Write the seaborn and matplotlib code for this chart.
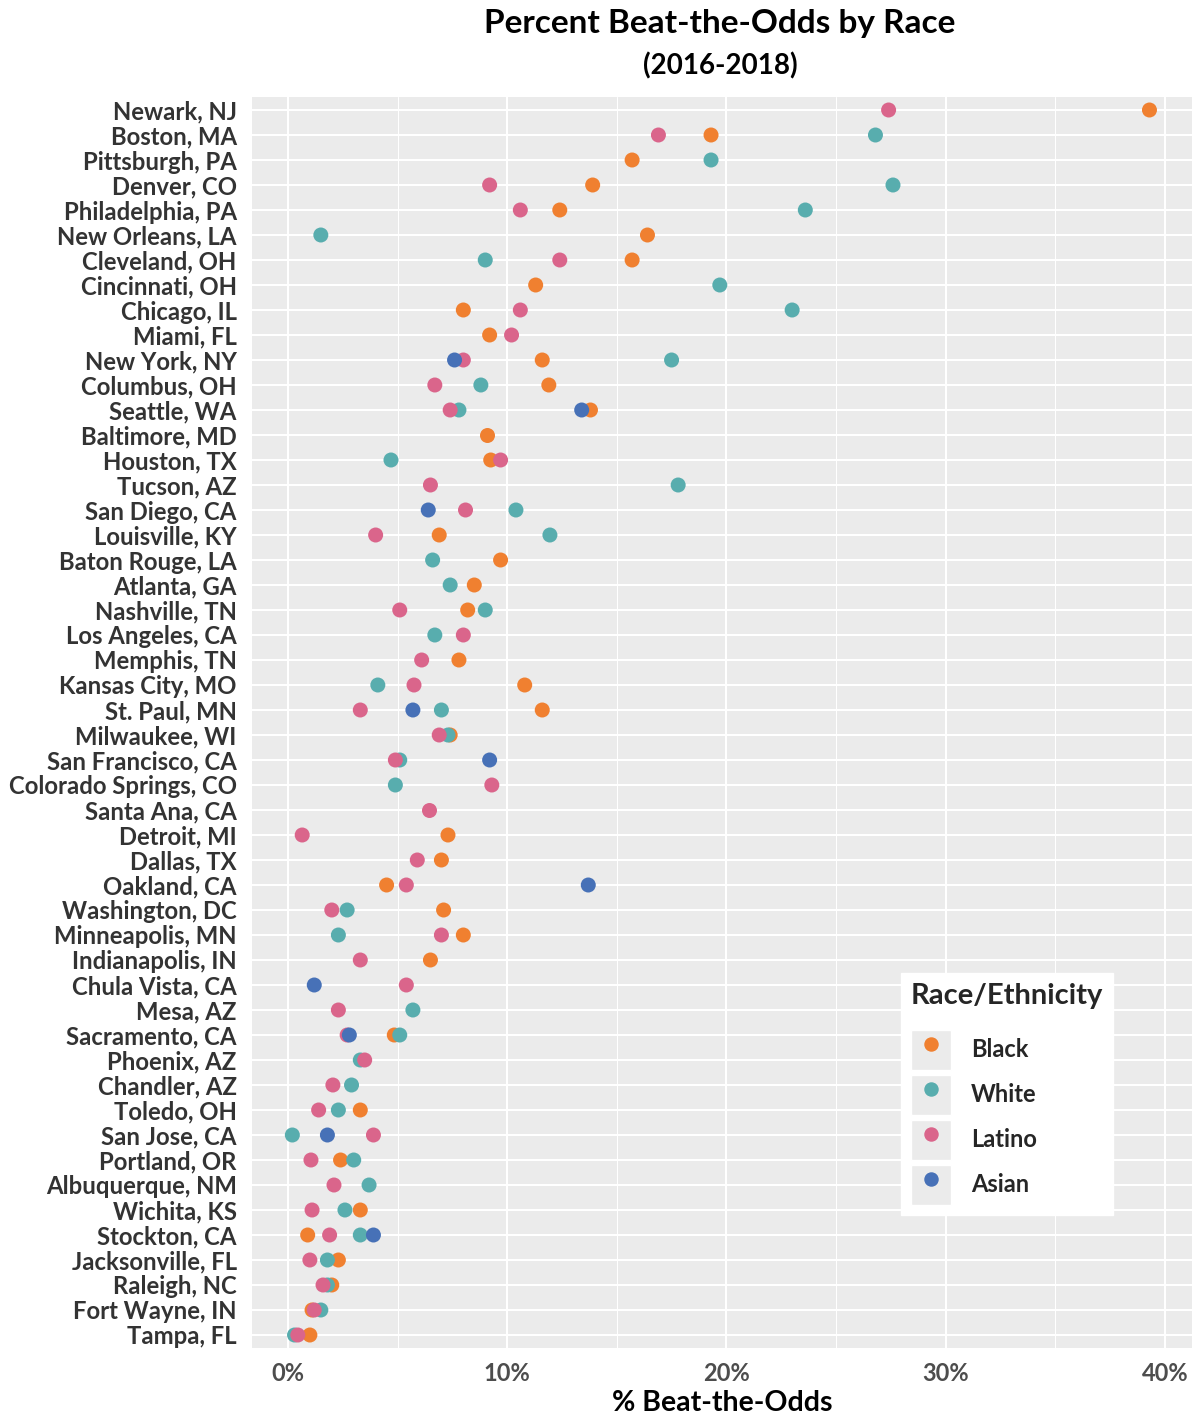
import numpy as np
import pandas as pd
import matplotlib
matplotlib.use("Agg")
import matplotlib.pyplot as plt
import seaborn as sns
from matplotlib.lines import Line2D
from matplotlib.patches import Patch
from matplotlib.legend_handler import HandlerTuple
from matplotlib.ticker import FuncFormatter, FixedLocator

cities = ["Newark, NJ", "Boston, MA", "Pittsburgh, PA", "Denver, CO", "Philadelphia, PA",
          "New Orleans, LA", "Cleveland, OH", "Cincinnati, OH", "Chicago, IL", "Miami, FL",
          "New York, NY", "Columbus, OH", "Seattle, WA", "Baltimore, MD", "Houston, TX",
          "Tucson, AZ", "San Diego, CA", "Louisville, KY", "Baton Rouge, LA", "Atlanta, GA",
          "Nashville, TN", "Los Angeles, CA", "Memphis, TN", "Kansas City, MO", "St. Paul, MN",
          "Milwaukee, WI", "San Francisco, CA", "Colorado Springs, CO", "Santa Ana, CA", "Detroit, MI",
          "Dallas, TX", "Oakland, CA", "Washington, DC", "Minneapolis, MN", "Indianapolis, IN",
          "Chula Vista, CA", "Mesa, AZ", "Sacramento, CA", "Phoenix, AZ", "Chandler, AZ",
          "Toledo, OH", "San Jose, CA", "Portland, OR", "Albuquerque, NM", "Wichita, KS",
          "Stockton, CA", "Jacksonville, FL", "Raleigh, NC", "Fort Wayne, IN", "Tampa, FL"]

black = [39.3, 19.3, 15.7, 13.9, 12.4, 16.4, 15.7, 11.3, 8.0, 9.2,
         11.6, 11.9, 13.8, 9.1, 9.25, None, None, 6.9, 9.7, 8.5,
         8.2, None, 7.8, 10.8, 11.6, 7.4, None, None, None, 7.3,
         7.0, 4.5, 7.1, 8.0, 6.5, None, None, 4.85, None, None,
         3.3, None, 2.4, None, 3.3, 0.9, 2.3, 2.0, 1.1, 1.0]

white = [None, 26.8, 19.3, 27.6, 23.6, 1.5, 9.0, 19.7, 23.0, None,
         17.5, 8.8, 7.8, None, 4.7, 17.8, 10.4, 11.95, 6.6, 7.4,
         9.0, 6.7, None, 4.1, 7.0, 7.3, 5.1, 4.9, None, None,
         None, None, 2.7, 2.3, None, None, 5.7, 5.1, 3.3, 2.9,
         2.3, 0.2, 3.0, 3.7, 2.6, 3.3, 1.8, 1.8, 1.5, 0.3]

latino = [27.4, 16.9, None, 9.2, 10.6, None, 12.4, None, 10.6, 10.2,
          8.0, 6.7, 7.4, None, 9.7, 6.5, 8.1, 4.0, None, None,
          5.1, 8.0, 6.1, 5.75, 3.3, 6.9, 4.9, 9.3, 6.45, 0.65,
          5.9, 5.4, 2.0, 7.0, 3.3, 5.4, 2.3, 2.7, 3.5, 2.05,
          1.4, 3.9, 1.05, 2.1, 1.1, 1.9, 1.0, 1.6, 1.2, 0.45]

asian = [None, None, None, None, None, None, None, None, None, None,
         7.6, None, 13.4, None, None, None, 6.4, None, None, None,
         None, None, None, None, 5.7, None, 9.2, None, None, None,
         None, 13.7, None, None, None, 1.2, None, 2.8, None, None,
         None, 1.8, None, None, None, 3.9, None, None, None, None]

races = ["Black", "White", "Latino", "Asian"]
colors = ["#F08030", "#58ADAE", "#DA658B", "#4771B7"]

rows = []
for race, vals in zip(races, [black, white, latino, asian]):
    for c, v in zip(cities, vals):
        if v is not None:
            rows.append((c, race, v))
df = pd.DataFrame(rows, columns=["city", "race", "pct"])

sns.set_theme(style="white")
plt.rcParams["font.family"] = ["Lato", "DejaVu Sans"]
plt.rcParams["font.weight"] = "bold"

W, H = 1192, 1416
fig = plt.figure(figsize=(W / 100, H / 100), dpi=100)
left, right, top, bottom = 252 / W, 1.0, 1 - 97 / H, 1 - 1348 / H
ax = fig.add_axes([left, bottom, right - left, top - bottom])

sns.stripplot(data=df, x="pct", y="city", hue="race", order=cities, hue_order=races,
              palette=colors, jitter=False, dodge=False, size=10.8, linewidth=0,
              legend=False, ax=ax, zorder=3)

ax.set_facecolor("#EBEBEB")
for s in ax.spines.values():
    s.set_visible(False)
ax.set_xlim(-1.64, 41.24)
ax.set_ylim(49.52, -0.52)
ax.xaxis.set_major_locator(FixedLocator([0, 10, 20, 30, 40]))
ax.xaxis.set_minor_locator(FixedLocator([5, 15, 25, 35]))
ax.xaxis.set_major_formatter(FuncFormatter(lambda v, p: f"{int(v)}%"))
ax.set_axisbelow(True)
ax.grid(which="major", axis="both", color="white", linewidth=1.5)
ax.grid(which="minor", axis="x", color="white", linewidth=0.75)
ax.tick_params(axis="both", which="major", length=5, width=1.1, color="#333333")
ax.tick_params(axis="y", pad=6)
ax.tick_params(axis="x", pad=5)
ax.tick_params(axis="x", which="minor", length=0)
ax.tick_params(axis="y", labelsize=17.2, labelcolor="#333333")
ax.tick_params(axis="x", labelsize=17, labelcolor="#4D4D4D")
for lab in ax.get_yticklabels() + ax.get_xticklabels():
    lab.set_fontweight("bold")
ax.set_ylabel("")
ax.set_xlabel("% Beat-the-Odds", fontsize=20.5, fontweight="bold", color="black", labelpad=4)

cx = 720 / W
fig.text(cx, 1 - 23 / H, "Percent Beat-the-Odds by Race", ha="center", va="center",
         fontsize=24, fontweight="bold", color="black")
fig.text(cx, 1 - 66 / H, "(2016-2018)", ha="center", va="center",
         fontsize=20, fontweight="bold", color="black")

handles = [(Patch(facecolor="#EBEBEB", edgecolor="white", linewidth=1.0),
            Line2D([], [], marker="o", color=c, linestyle="", markersize=9.4))
           for c in colors]
leg = ax.legend(handles, races, handler_map={tuple: HandlerTuple(ndivide=1)},
                title="Race/Ethnicity", loc="upper left",
                bbox_to_anchor=(901 / W, 1 - 973 / H), bbox_transform=fig.transFigure,
                frameon=True, fancybox=False, framealpha=1, edgecolor="white",
                facecolor="white", fontsize=17, title_fontsize=21,
                handlelength=1.7, handleheight=2.25, labelspacing=0.2,
                handletextpad=0.85, borderpad=0.42, borderaxespad=0,
                alignment="left")
leg.get_title().set_fontweight("bold")
for t in leg.get_texts():
    t.set_fontweight("bold")
leg._legend_box.sep = 15

fig.savefig("out.png", dpi=100)
